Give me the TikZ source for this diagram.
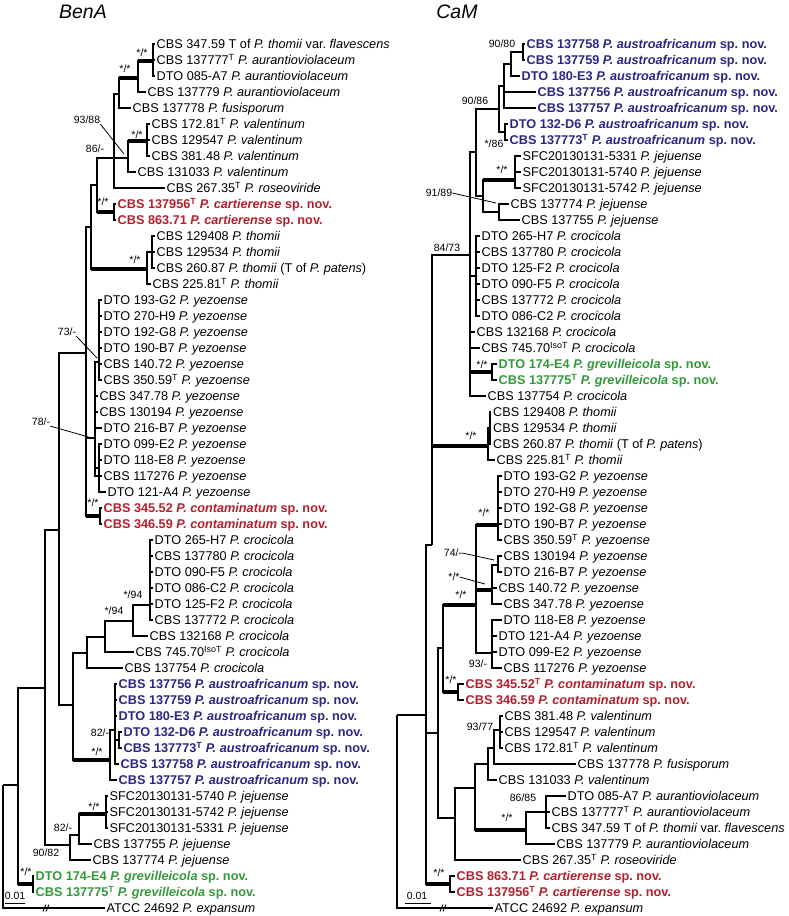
\documentclass[tikz,border=0pt]{standalone}
\usepackage{fontspec}
\setmainfont{Liberation Sans}
\usepackage{xcolor}
\usepackage{tikz}
\usetikzlibrary{calc}
\definecolor{novred}{RGB}{178,32,45}
\definecolor{novblue}{RGB}{42,38,130}
\definecolor{novgreen}{RGB}{52,152,58}
\newcommand{\typ}{\textsuperscript{T}}
\newcommand{\isotyp}{\textsuperscript{IsoT}}

\begin{document}
\frenchspacing
\begin{tikzpicture}[x=1pt, y=-1pt, elbow/.style={line width=1.1pt, to path={|- (\tikztotarget)}}, thickbr/.style={line width=4pt}, leaf/.style={anchor=west, inner xsep=2pt, inner ysep=0pt, text height=9.1pt, text depth=0pt, font=\fontsize{12.7}{14}\selectfont}, newsp/.style={font=\fontsize{12.7}{14}\selectfont\bfseries}, bs/.style={inner sep=0pt, font=\fontsize{10.5}{12}\selectfont}, lead/.style={line width=0.8pt}, title/.style={font=\fontsize{19.5}{22}\selectfont\itshape}]

\useasboundingbox (0,0) rectangle (788,916);

\node[title] (tbena) at (83,12) {BenA};
\node[title] (tcam) at (457,12) {CaM};

\node[leaf] (b1) at (154.5,44) {CBS 347.59 T of \textit{P. thomii} var. \textit{flavescens}};
\node[leaf] (b2) at (154.5,60) {CBS 137777\typ{} \textit{P. aurantioviolaceum}};
\node[leaf] (b3) at (154.5,76) {DTO 085-A7 \textit{P. aurantioviolaceum}};
\node[leaf] (b4) at (145.5,92) {CBS 137779 \textit{P. aurantioviolaceum}};
\node[leaf] (b5) at (130.5,108) {CBS 137778 \textit{P. fusisporum}};
\node[leaf] (b6) at (149.5,124) {CBS 172.81\typ{} \textit{P. valentinum}};
\node[leaf] (b7) at (149.5,140) {CBS 129547 \textit{P. valentinum}};
\node[leaf] (b8) at (149.5,156) {CBS 381.48 \textit{P. valentinum}};
\node[leaf] (b9) at (135.5,172) {CBS 131033 \textit{P. valentinum}};
\node[leaf] (b10) at (164.5,188) {CBS 267.35\typ{} \textit{P. roseoviride}};
\node[leaf, newsp, text=novred] (b11) at (115.5,204) {CBS 137956\typ{} \textit{P. cartierense} sp. nov.};
\node[leaf, newsp, text=novred] (b12) at (115.5,220) {CBS 863.71 \textit{P. cartierense} sp. nov.};
\node[leaf] (b13) at (154.5,236) {CBS 129408 \textit{P. thomii}};
\node[leaf] (b14) at (154.5,252) {CBS 129534 \textit{P. thomii}};
\node[leaf] (b15) at (154.5,268) {CBS 260.87 \textit{P. thomii} (T of \textit{P. patens})};
\node[leaf] (b16) at (150.5,284) {CBS 225.81\typ{} \textit{P. thomii}};
\node[leaf] (b17) at (101.5,300) {DTO 193-G2 \textit{P. yezoense}};
\node[leaf] (b18) at (101.5,316) {DTO 270-H9 \textit{P. yezoense}};
\node[leaf] (b19) at (101.5,332) {DTO 192-G8 \textit{P. yezoense}};
\node[leaf] (b20) at (101.5,348) {DTO 190-B7 \textit{P. yezoense}};
\node[leaf] (b21) at (101.5,364) {CBS 140.72 \textit{P. yezoense}};
\node[leaf] (b22) at (101.5,380) {CBS 350.59\typ{} \textit{P. yezoense}};
\node[leaf] (b23) at (97.5,396) {CBS 347.78 \textit{P. yezoense}};
\node[leaf] (b24) at (97.5,412) {CBS 130194 \textit{P. yezoense}};
\node[leaf] (b25) at (101.5,428) {DTO 216-B7 \textit{P. yezoense}};
\node[leaf] (b26) at (101.5,444) {DTO 099-E2 \textit{P. yezoense}};
\node[leaf] (b27) at (101.5,460) {DTO 118-E8 \textit{P. yezoense}};
\node[leaf] (b28) at (101.5,476) {CBS 117276 \textit{P. yezoense}};
\node[leaf] (b29) at (105.5,492) {DTO 121-A4 \textit{P. yezoense}};
\node[leaf, newsp, text=novred] (b30) at (101.5,508) {CBS 345.52 \textit{P. contaminatum} sp. nov.};
\node[leaf, newsp, text=novred] (b31) at (101.5,524) {CBS 346.59 \textit{P. contaminatum} sp. nov.};
\node[leaf] (b32) at (152.5,540) {DTO 265-H7 \textit{P. crocicola}};
\node[leaf] (b33) at (152.5,556) {CBS 137780 \textit{P. crocicola}};
\node[leaf] (b34) at (152.5,572) {DTO 090-F5 \textit{P. crocicola}};
\node[leaf] (b35) at (152.5,588) {DTO 086-C2 \textit{P. crocicola}};
\node[leaf] (b36) at (152.5,604) {DTO 125-F2 \textit{P. crocicola}};
\node[leaf] (b37) at (152.5,620) {CBS 137772 \textit{P. crocicola}};
\node[leaf] (b38) at (147.5,636) {CBS 132168 \textit{P. crocicola}};
\node[leaf] (b39) at (133.5,652) {CBS 745.70\isotyp{} \textit{P. crocicola}};
\node[leaf] (b40) at (122.5,668) {CBS 137754 \textit{P. crocicola}};
\node[leaf, newsp, text=novblue] (b41) at (116.5,684) {CBS 137756 \textit{P. austroafricanum} sp. nov.};
\node[leaf, newsp, text=novblue] (b42) at (116.5,700) {CBS 137759 \textit{P. austroafricanum} sp. nov.};
\node[leaf, newsp, text=novblue] (b43) at (116.5,716) {DTO 180-E3 \textit{P. austroafricanum} sp. nov.};
\node[leaf, newsp, text=novblue] (b44) at (121.5,732) {DTO 132-D6 \textit{P. austroafricanum} sp. nov.};
\node[leaf, newsp, text=novblue] (b45) at (121.5,748) {CBS 137773\typ{} \textit{P. austroafricanum} sp. nov.};
\node[leaf, newsp, text=novblue] (b46) at (118.5,764) {CBS 137758 \textit{P. austroafricanum} sp. nov.};
\node[leaf, newsp, text=novblue] (b47) at (116.5,780) {CBS 137757 \textit{P. austroafricanum} sp. nov.};
\node[leaf] (b48) at (107.5,796) {SFC20130131-5740 \textit{P. jejuense}};
\node[leaf] (b49) at (107.5,812) {SFC20130131-5742 \textit{P. jejuense}};
\node[leaf] (b50) at (107.5,828) {SFC20130131-5331 \textit{P. jejuense}};
\node[leaf] (b51) at (91.5,844) {CBS 137755 \textit{P. jejuense}};
\node[leaf] (b52) at (90.5,860) {CBS 137774 \textit{P. jejuense}};
\node[leaf, newsp, text=novgreen] (b53) at (33.5,876) {DTO 174-E4 \textit{P. grevilleicola} sp. nov.};
\node[leaf, newsp, text=novgreen] (b54) at (33.5,892) {CBS 137775\typ{} \textit{P. grevilleicola} sp. nov.};
\node[leaf] (b55) at (104.5,908) {ATCC 24692 \textit{P. expansum}};

\coordinate (bAu) at (153,61);
\coordinate (bAuB) at (138,78);
\coordinate (bAuC) at (119,94);
\coordinate (bVa) at (147,141);
\coordinate (bVb) at (128,158);
\coordinate (bUp) at (114,158);
\coordinate (bCa) at (114,212);
\coordinate (bP1) at (97,185);
\coordinate (bTh2) at (152,252);
\coordinate (bTh1) at (147,269);
\coordinate (bP2) at (91,227);
\coordinate (bYe1) at (99,362);
\coordinate (bYe2) at (99,468);
\coordinate (bYe) at (95,438);
\coordinate (bCo) at (100,516);
\coordinate (bP3) at (86,353);
\coordinate (bKr4) at (150,605);
\coordinate (bKr3) at (133,621);
\coordinate (bKr2) at (105,637);
\coordinate (bKr1) at (87,653);
\coordinate (bAf3) at (119,740);
\coordinate (bAf2) at (115,730);
\coordinate (bAf1) at (110,760);
\coordinate (bP6) at (73,705);
\coordinate (bP4) at (59,530);
\coordinate (bJe2) at (106,814);
\coordinate (bJe1) at (79,835);
\coordinate (bJe) at (70,845);
\coordinate (bP5) at (45,688);
\coordinate (bGr) at (33,884);
\coordinate (bIn) at (18,785);
\coordinate (bRoot) at (3,785);

\path
 (bAu) edge[elbow] (b1.west) edge[elbow] (b2.west) edge[elbow] (b3.west)
 (bAuB) edge[elbow] (bAu) edge[elbow] (b4.west)
 (bAuC) edge[elbow] (bAuB) edge[elbow] (b5.west)
 (bVa) edge[elbow] (b6.west) edge[elbow] (b7.west) edge[elbow] (b8.west)
 (bVb) edge[elbow] (bVa) edge[elbow] (b9.west)
 (bUp) edge[elbow] (bAuC) edge[elbow] (bVb) edge[elbow] (b10.west)
 (bCa) edge[elbow] (b11.west) edge[elbow] (b12.west)
 (bP1) edge[elbow] (bUp) edge[elbow] (bCa)
 (bTh2) edge[elbow] (b13.west) edge[elbow] (b14.west) edge[elbow] (b15.west)
 (bTh1) edge[elbow] (bTh2) edge[elbow] (b16.west)
 (bP2) edge[elbow] (bP1) edge[elbow] (bTh1)
 (bYe1) edge[elbow] (b17.west) edge[elbow] (b18.west) edge[elbow] (b19.west) edge[elbow] (b20.west) edge[elbow] (b21.west) edge[elbow] (b22.west)
 (bYe2) edge[elbow] (b26.west) edge[elbow] (b27.west) edge[elbow] (b29.west)
 (bYe) edge[elbow] (bYe1) edge[elbow] (b23.west) edge[elbow] (b24.west) edge[elbow] (b25.west) edge[elbow] (bYe2) edge[elbow] (b28.west)
 (bCo) edge[elbow] (b30.west) edge[elbow] (b31.west)
 (bP3) edge[elbow] (bP2) edge[elbow] (bYe) edge[elbow] (bCo)
 (bKr4) edge[elbow] (b32.west) edge[elbow] (b33.west) edge[elbow] (b34.west) edge[elbow] (b35.west) edge[elbow] (b36.west) edge[elbow] (b37.west)
 (bKr3) edge[elbow] (bKr4) edge[elbow] (b38.west)
 (bKr2) edge[elbow] (bKr3) edge[elbow] (b39.west)
 (bKr1) edge[elbow] (bKr2) edge[elbow] (b40.west)
 (bAf3) edge[elbow] (b44.west) edge[elbow] (b45.west)
 (bAf2) edge[elbow] (b41.west) edge[elbow] (b42.west) edge[elbow] (b43.west) edge[elbow] (bAf3) edge[elbow] (b46.west)
 (bAf1) edge[elbow] (bAf2) edge[elbow] (b47.west)
 (bP6) edge[elbow] (bKr1) edge[elbow] (bAf1)
 (bP4) edge[elbow] (bP3) edge[elbow] (bP6)
 (bJe2) edge[elbow] (b48.west) edge[elbow] (b49.west) edge[elbow] (b50.west)
 (bJe1) edge[elbow] (bJe2) edge[elbow] (b51.west)
 (bJe) edge[elbow] (bJe1) edge[elbow] (b52.west)
 (bP5) edge[elbow] (bP4) edge[elbow] (bJe)
 (bGr) edge[elbow] (b53.west) edge[elbow] (b54.west)
 (bIn) edge[elbow] (bP5) edge[elbow] (bGr)
 (bRoot) edge[elbow] (bIn) edge[elbow] (b55.west);

\foreach \p/\c in {bAuB/bAu, bAuC/bAuB, bVb/bVa, bP1/bCa, bP2/bTh1, bP3/bCo, bP6/bAf1, bJe1/bJe2, bIn/bGr}
 \draw[thickbr] (\p |- \c) -- (\c);

\node[bs] (sbAu) at (142,53) {*/*};
\node[bs] (sbAuB) at (125,69) {*/*};
\node[bs] (sbVb) at (87,120) {93/88};
\node[bs] (sbVa) at (137,135) {*/*};
\node[bs] (sbUp) at (95,149) {86/-};
\node[bs] (sbCa) at (103,202) {*/*};
\node[bs] (sbTh) at (135,260) {*/*};
\node[bs] (sbYe1) at (67,332) {73/-};
\node[bs] (sbYe) at (41,422) {78/-};
\node[bs] (sbCo) at (93,503) {*/*};
\node[bs] (sbKr4) at (133,595) {*/94};
\node[bs] (sbKr3) at (114,611) {*/94};
\node[bs] (sbAf3) at (100,733) {82/-};
\node[bs] (sbAf1) at (97,752) {*/*};
\node[bs] (sbJe2) at (94,807) {*/*};
\node[bs] (sbJe1) at (63,828) {82/-};
\node[bs] (sbJe) at (46,853) {90/82};
\node[bs] (sbGr) at (26,872) {*/*};

\coordinate (ebVb) at (124,154);
\coordinate (ebYe1) at (97,358);
\coordinate (ebYe) at (92,438);
\draw[lead] (sbVb.south east) -- (ebVb);
\draw[lead] (sbYe1.south east) -- (ebYe1);
\draw[lead] (sbYe.south east) -- (ebYe);

\coordinate (bbrk) at (46,908);
\draw[line width=0.9pt] ([shift={(-3,3.5)}]bbrk) -- ([shift={(0,-3.5)}]bbrk) ([shift={(0,3.5)}]bbrk) -- ([shift={(3,-3.5)}]bbrk);
\coordinate (bsc1) at (5,903);
\coordinate (bsc2) at (25,903);
\draw[line width=0.9pt] (bsc1) -- (bsc2);
\node[bs] (bsct) at (15,896) {0.01};

\node[leaf, newsp, text=novblue] (c1) at (524.5,44) {CBS 137758 \textit{P. austroafricanum} sp. nov.};
\node[leaf, newsp, text=novblue] (c2) at (524.5,60) {CBS 137759 \textit{P. austroafricanum} sp. nov.};
\node[leaf, newsp, text=novblue] (c3) at (519.5,76) {DTO 180-E3 \textit{P. austroafricanum} sp. nov.};
\node[leaf, newsp, text=novblue] (c4) at (535.5,92) {CBS 137756 \textit{P. austroafricanum} sp. nov.};
\node[leaf, newsp, text=novblue] (c5) at (535.5,108) {CBS 137757 \textit{P. austroafricanum} sp. nov.};
\node[leaf, newsp, text=novblue] (c6) at (507.5,124) {DTO 132-D6 \textit{P. austroafricanum} sp. nov.};
\node[leaf, newsp, text=novblue] (c7) at (507.5,140) {CBS 137773\typ{} \textit{P. austroafricanum} sp. nov.};
\node[leaf] (c8) at (520.5,156) {SFC20130131-5331 \textit{P. jejuense}};
\node[leaf] (c9) at (520.5,172) {SFC20130131-5740 \textit{P. jejuense}};
\node[leaf] (c10) at (520.5,188) {SFC20130131-5742 \textit{P. jejuense}};
\node[leaf] (c11) at (508.5,204) {CBS 137774 \textit{P. jejuense}};
\node[leaf] (c12) at (519.5,220) {CBS 137755 \textit{P. jejuense}};
\node[leaf] (c13) at (479.5,236) {DTO 265-H7 \textit{P. crocicola}};
\node[leaf] (c14) at (479.5,252) {CBS 137780 \textit{P. crocicola}};
\node[leaf] (c15) at (479.5,268) {DTO 125-F2 \textit{P. crocicola}};
\node[leaf] (c16) at (479.5,284) {DTO 090-F5 \textit{P. crocicola}};
\node[leaf] (c17) at (479.5,300) {CBS 137772 \textit{P. crocicola}};
\node[leaf] (c18) at (479.5,316) {DTO 086-C2 \textit{P. crocicola}};
\node[leaf] (c19) at (474.5,332) {CBS 132168 \textit{P. crocicola}};
\node[leaf] (c20) at (479.5,348) {CBS 745.70\isotyp{} \textit{P. crocicola}};
\node[leaf, newsp, text=novgreen] (c21) at (496.5,364) {DTO 174-E4 \textit{P. grevilleicola} sp. nov.};
\node[leaf, newsp, text=novgreen] (c22) at (496.5,380) {CBS 137775\typ{} \textit{P. grevilleicola} sp. nov.};
\node[leaf] (c23) at (485.5,396) {CBS 137754 \textit{P. crocicola}};
\node[leaf] (c24) at (491,412) {CBS 129408 \textit{P. thomii}};
\node[leaf] (c25) at (491,428) {CBS 129534 \textit{P. thomii}};
\node[leaf] (c26) at (491,444) {CBS 260.87 \textit{P. thomii} (T of \textit{P. patens})};
\node[leaf] (c27) at (494.5,460) {CBS 225.81\typ{} \textit{P. thomii}};
\node[leaf] (c28) at (501.5,476) {DTO 193-G2 \textit{P. yezoense}};
\node[leaf] (c29) at (501.5,492) {DTO 270-H9 \textit{P. yezoense}};
\node[leaf] (c30) at (501.5,508) {DTO 192-G8 \textit{P. yezoense}};
\node[leaf] (c31) at (501.5,524) {DTO 190-B7 \textit{P. yezoense}};
\node[leaf] (c32) at (501.5,540) {CBS 350.59\typ{} \textit{P. yezoense}};
\node[leaf] (c33) at (501.5,556) {CBS 130194 \textit{P. yezoense}};
\node[leaf] (c34) at (501.5,572) {DTO 216-B7 \textit{P. yezoense}};
\node[leaf] (c35) at (496.5,588) {CBS 140.72 \textit{P. yezoense}};
\node[leaf] (c36) at (501.5,604) {CBS 347.78 \textit{P. yezoense}};
\node[leaf] (c37) at (501.5,620) {DTO 118-E8 \textit{P. yezoense}};
\node[leaf] (c38) at (496.5,636) {DTO 121-A4 \textit{P. yezoense}};
\node[leaf] (c39) at (496.5,652) {DTO 099-E2 \textit{P. yezoense}};
\node[leaf] (c40) at (501.5,668) {CBS 117276 \textit{P. yezoense}};
\node[leaf, newsp, text=novred] (c41) at (463.5,684) {CBS 345.52\typ{} \textit{P. contaminatum} sp. nov.};
\node[leaf, newsp, text=novred] (c42) at (463.5,700) {CBS 346.59 \textit{P. contaminatum} sp. nov.};
\node[leaf] (c43) at (502.5,716) {CBS 381.48 \textit{P. valentinum}};
\node[leaf] (c44) at (502.5,732) {CBS 129547 \textit{P. valentinum}};
\node[leaf] (c45) at (502.5,748) {CBS 172.81\typ{} \textit{P. valentinum}};
\node[leaf] (c46) at (575.5,764) {CBS 137778 \textit{P. fusisporum}};
\node[leaf] (c47) at (496.5,780) {CBS 131033 \textit{P. valentinum}};
\node[leaf] (c48) at (565.5,796) {DTO 085-A7 \textit{P. aurantioviolaceum}};
\node[leaf] (c49) at (549.5,812) {CBS 137777\typ{} \textit{P. aurantioviolaceum}};
\node[leaf] (c50) at (549.5,828) {CBS 347.59 T of \textit{P. thomii} var. \textit{flavescens}};
\node[leaf] (c51) at (554.5,844) {CBS 137779 \textit{P. aurantioviolaceum}};
\node[leaf] (c52) at (520.5,860) {CBS 267.35\typ{} \textit{P. roseoviride}};
\node[leaf, newsp, text=novred] (c53) at (454.5,876) {CBS 863.71 \textit{P. cartierense} sp. nov.};
\node[leaf, newsp, text=novred] (c54) at (454.5,892) {CBS 137956\typ{} \textit{P. cartierense} sp. nov.};
\node[leaf] (c55) at (492.5,908) {ATCC 24692 \textit{P. expansum}};

\coordinate (cAf1) at (523,52);
\coordinate (cAf2) at (511,64);
\coordinate (cAf3) at (504,86);
\coordinate (cAf4) at (505,132);
\coordinate (cAf) at (499,109);
\coordinate (cJe2) at (515,180);
\coordinate (cJe3) at (499,212);
\coordinate (cJe) at (483,196);
\coordinate (cUp) at (476,152);
\coordinate (cKr) at (476,276);
\coordinate (cGr) at (492,372);
\coordinate (cP1) at (470,255);
\coordinate (cTh2) at (490,428);
\coordinate (cTh1) at (488,446);
\coordinate (cP2) at (432,545);
\coordinate (cYe1) at (498,525);
\coordinate (cYe3) at (498,565);
\coordinate (cYe2) at (492,590);
\coordinate (cYe4) at (492,653);
\coordinate (cYe) at (476,605);
\coordinate (cCo) at (458,692);
\coordinate (cP3) at (443,648);
\coordinate (cVa1) at (500,730);
\coordinate (cVa2) at (494,748);
\coordinate (cVa3) at (488,764);
\coordinate (cAu2) at (546,812);
\coordinate (cAu1) at (526,830);
\coordinate (cVa) at (475,788);
\coordinate (cP5) at (455,818);
\coordinate (cP4) at (438,733);
\coordinate (cCa) at (450,884);
\coordinate (cIn) at (426,715);
\coordinate (cRoot) at (397,715);

\path
 (cAf1) edge[elbow] (c1.west) edge[elbow] (c2.west)
 (cAf2) edge[elbow] (cAf1) edge[elbow] (c3.west)
 (cAf3) edge[elbow] (cAf2) edge[elbow] (c4.west) edge[elbow] (c5.west)
 (cAf4) edge[elbow] (c6.west) edge[elbow] (c7.west)
 (cAf) edge[elbow] (cAf3) edge[elbow] (cAf4)
 (cJe2) edge[elbow] (c8.west) edge[elbow] (c9.west) edge[elbow] (c10.west)
 (cJe3) edge[elbow] (c11.west) edge[elbow] (c12.west)
 (cJe) edge[elbow] (cJe2) edge[elbow] (cJe3)
 (cUp) edge[elbow] (cAf) edge[elbow] (cJe)
 (cKr) edge[elbow] (c13.west) edge[elbow] (c14.west) edge[elbow] (c15.west) edge[elbow] (c16.west) edge[elbow] (c17.west) edge[elbow] (c18.west)
 (cGr) edge[elbow] (c21.west) edge[elbow] (c22.west)
 (cP1) edge[elbow] (cUp) edge[elbow] (cKr) edge[elbow] (c19.west) edge[elbow] (c20.west) edge[elbow] (cGr) edge[elbow] (c23.west)
 (cTh2) edge[elbow] (c24.west) edge[elbow] (c25.west) edge[elbow] (c26.west)
 (cTh1) edge[elbow] (cTh2) edge[elbow] (c27.west)
 (cP2) edge[elbow] (cP1) edge[elbow] (cTh1)
 (cYe1) edge[elbow] (c28.west) edge[elbow] (c29.west) edge[elbow] (c30.west) edge[elbow] (c31.west) edge[elbow] (c32.west)
 (cYe3) edge[elbow] (c33.west) edge[elbow] (c34.west)
 (cYe2) edge[elbow] (cYe3) edge[elbow] (c35.west) edge[elbow] (c36.west)
 (cYe4) edge[elbow] (c37.west) edge[elbow] (c38.west) edge[elbow] (c39.west) edge[elbow] (c40.west)
 (cYe) edge[elbow] (cYe1) edge[elbow] (cYe2) edge[elbow] (cYe4)
 (cCo) edge[elbow] (c41.west) edge[elbow] (c42.west)
 (cP3) edge[elbow] (cYe) edge[elbow] (cCo)
 (cVa1) edge[elbow] (c43.west) edge[elbow] (c44.west) edge[elbow] (c45.west)
 (cVa2) edge[elbow] (cVa1) edge[elbow] (c46.west)
 (cVa3) edge[elbow] (cVa2) edge[elbow] (c47.west)
 (cAu2) edge[elbow] (c48.west) edge[elbow] (c49.west) edge[elbow] (c50.west)
 (cAu1) edge[elbow] (cAu2) edge[elbow] (c51.west)
 (cVa) edge[elbow] (cVa3) edge[elbow] (cAu1)
 (cP5) edge[elbow] (cVa) edge[elbow] (c52.west)
 (cP4) edge[elbow] (cP3) edge[elbow] (cP5)
 (cCa) edge[elbow] (c53.west) edge[elbow] (c54.west)
 (cIn) edge[elbow] (cP2) edge[elbow] (cP4) edge[elbow] (cCa)
 (cRoot) edge[elbow] (cIn) edge[elbow] (c55.west);

\foreach \p/\c in {cJe/cJe2, cP1/cGr, cP2/cTh1, cP3/cYe, cYe/cYe1, cYe/cYe2, cP3/cCo, cVa/cAu1, cIn/cCa}
 \draw[thickbr] (\p |- \c) -- (\c);

\node[bs] (scAf1) at (502,44) {90/80};
\node[bs] (scAf) at (475,101) {90/86};
\node[bs] (scAf4) at (494,144) {*/86};
\node[bs] (scJe2) at (502,170) {*/*};
\node[bs] (scJe3) at (439,193) {91/89};
\node[bs] (scP1) at (447,248) {84/73};
\node[bs] (scGr) at (482,365) {*/*};
\node[bs] (scTh) at (471,436) {*/*};
\node[bs] (scYe1) at (484,513) {*/*};
\node[bs] (scYe3) at (453,553) {74/-};
\node[bs] (scYe2) at (454,577) {*/*};
\node[bs] (scYe) at (461,595) {*/*};
\node[bs] (scYe4) at (478,664) {93/-};
\node[bs] (scCo) at (451,680) {*/*};
\node[bs] (scVa1) at (480,727) {93/77};
\node[bs] (scAu2) at (523,798) {86/85};
\node[bs] (scAu1) at (507,818) {*/*};
\node[bs] (scCa) at (439,873) {*/*};

\coordinate (ecJe3) at (496,203);
\coordinate (ecYe3) at (494,560);
\coordinate (ecYe2) at (485,584);
\draw[lead] (scJe3.east) -- (ecJe3);
\draw[lead] (scYe3.east) -- (ecYe3);
\draw[lead] (scYe2.east) -- (ecYe2);

\coordinate (cbrk) at (443,908);
\draw[line width=0.9pt] ([shift={(-3,3.5)}]cbrk) -- ([shift={(0,-3.5)}]cbrk) ([shift={(0,3.5)}]cbrk) -- ([shift={(3,-3.5)}]cbrk);
\coordinate (csc1) at (405,903);
\coordinate (csc2) at (431,903);
\draw[line width=0.9pt] (csc1) -- (csc2);
\node[bs] (csct) at (417,896) {0.01};
\end{tikzpicture}
\end{document}
